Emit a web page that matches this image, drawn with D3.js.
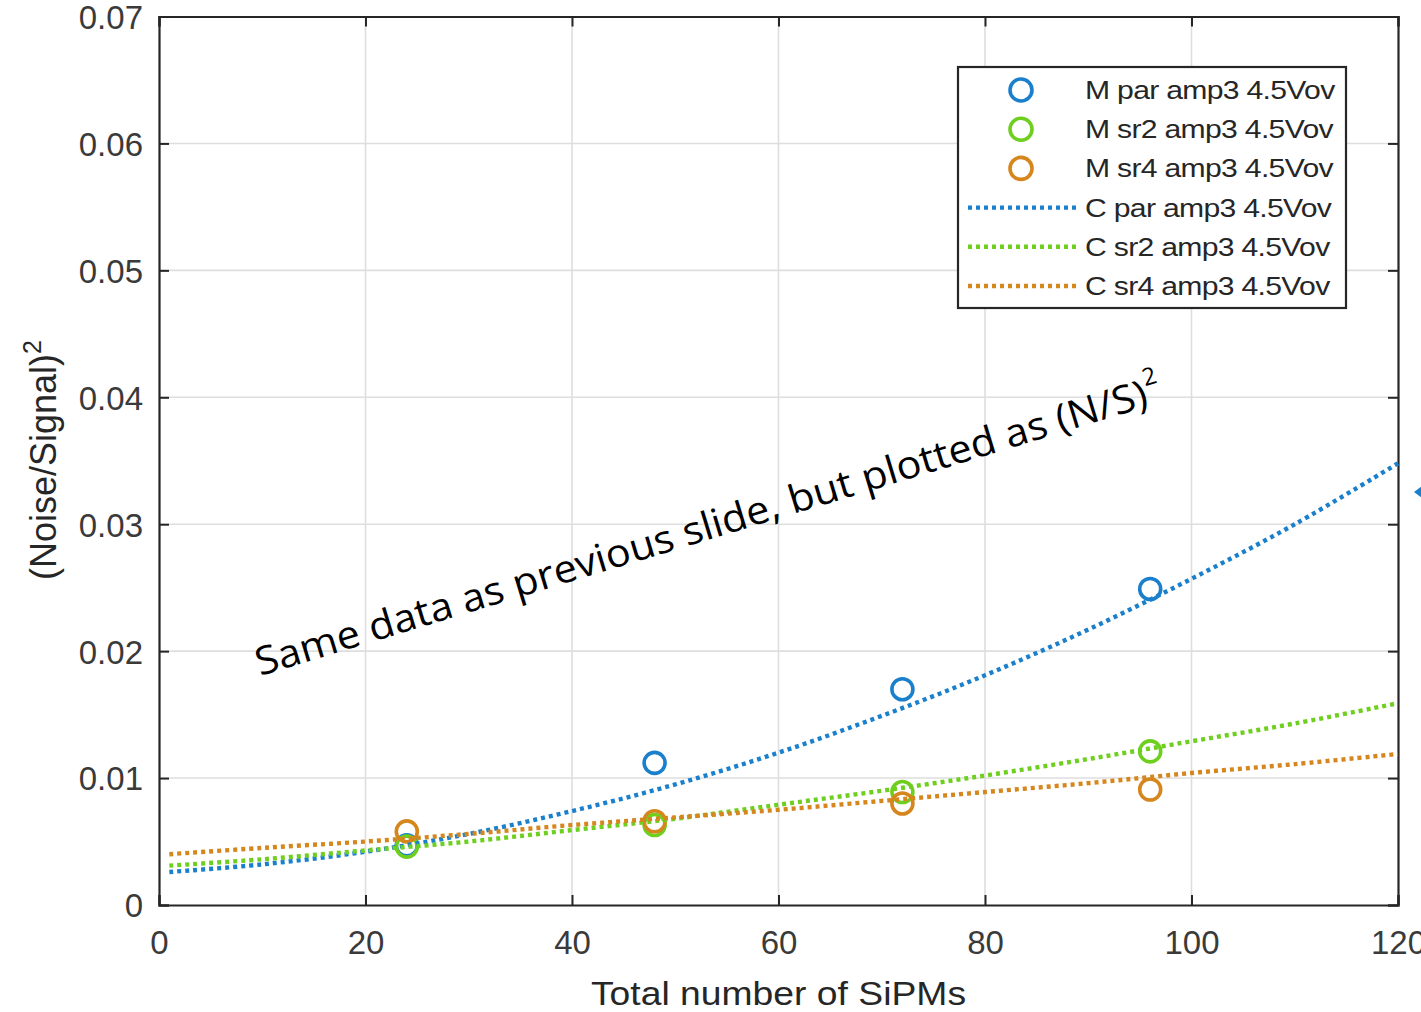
<!DOCTYPE html>
<html>
<head>
<meta charset="utf-8">
<script src="https://cdn.jsdelivr.net/npm/d3@7"></script>
<style>
  body { margin: 0; background: #fff; overflow: hidden; }
  svg { display: block; }
</style>
</head>
<body>
<svg id="chart" width="1421" height="1012"></svg>
<script>
// ---- data ----
const xTicks = [0, 20, 40, 60, 80, 100, 120];
const yTicks = [0, 0.01, 0.02, 0.03, 0.04, 0.05, 0.06, 0.07];
const xTickLabels = ["0", "20", "40", "60", "80", "100", "120"];
const yTickLabels = ["0", "0.01", "0.02", "0.03", "0.04", "0.05", "0.06", "0.07"];

// measured points (total SiPMs vs (N/S)^2)
const sipmCounts = [24, 48, 72, 96];
const measPar = [0.0047, 0.0112, 0.0170, 0.0249];
const measSr2 = [0.0046, 0.0063, 0.0089, 0.0121];
const measSr4 = [0.0058, 0.0066, 0.0080, 0.0091];

// calculated curves
const curveX = [1, 10, 20, 30, 40, 50, 60, 70, 80, 90, 100, 110, 120];
const calcPar = [0.0026, 0.0032, 0.0042, 0.0056, 0.0074, 0.0095, 0.0120, 0.0149, 0.0181, 0.0217, 0.0257, 0.0300, 0.0348];
const calcSr2 = [0.0031, 0.0036, 0.0043, 0.0050, 0.0059, 0.0068, 0.0079, 0.0090, 0.0102, 0.0115, 0.0129, 0.0143, 0.0159];
const calcSr4 = [0.0040, 0.0045, 0.0050, 0.0056, 0.0063, 0.0069, 0.0075, 0.0082, 0.0089, 0.0096, 0.0104, 0.0111, 0.0119];

const legendLabels = [
  "M par amp3 4.5Vov", "M sr2 amp3 4.5Vov", "M sr4 amp3 4.5Vov",
  "C par amp3 4.5Vov", "C sr2 amp3 4.5Vov", "C sr4 amp3 4.5Vov"
];
const seriesColors = ["#1a80cc", "#6ecf1e", "#d5861c"];

// ---- layout ----
const svg = d3.select("#chart");
const plotLeft = 159, plotRight = 1398, plotTop = 16.5, plotBottom = 905;
const axisColor = "#262626";

const x = d3.scaleLinear().domain([0, 120]).range([plotLeft, plotRight]);
const y = d3.scaleLinear().domain([0, 0.07]).range([plotBottom, plotTop]);

// grid
const grid = svg.append("g");
grid.selectAll("line.gx").data(xTicks.slice(1, -1)).join("line")
  .attr("x1", d => x(d)).attr("x2", d => x(d))
  .attr("y1", plotTop).attr("y2", plotBottom)
  .attr("stroke", "#dedede").attr("stroke-width", 1.6);
grid.selectAll("line.gy").data(yTicks.slice(1, -1)).join("line")
  .attr("x1", plotLeft).attr("x2", plotRight)
  .attr("y1", d => y(d)).attr("y2", d => y(d))
  .attr("stroke", "#dedede").attr("stroke-width", 1.6);

// axes with inward ticks on all four sides
const tickLen = 10;
const axB = svg.append("g").attr("transform", `translate(0,${plotBottom})`)
  .call(d3.axisBottom(x).tickValues(xTicks).tickSize(-tickLen).tickPadding(26)
    .tickFormat((d, i) => xTickLabels[i]));
const axT = svg.append("g").attr("transform", `translate(0,${plotTop})`)
  .call(d3.axisTop(x).tickValues(xTicks).tickSize(-tickLen).tickFormat(""));
const axL = svg.append("g").attr("transform", `translate(${plotLeft},0)`)
  .call(d3.axisLeft(y).tickValues(yTicks).tickSize(-tickLen).tickPadding(16)
    .tickFormat((d, i) => yTickLabels[i]));
const axR = svg.append("g").attr("transform", `translate(${plotRight},0)`)
  .call(d3.axisRight(y).tickValues(yTicks).tickSize(-tickLen).tickFormat(""));

[axB, axT, axL, axR].forEach(g => {
  g.select(".domain").attr("stroke", axisColor).attr("stroke-width", 2.2);
  g.selectAll(".tick line").attr("stroke", axisColor).attr("stroke-width", 2);
  g.selectAll(".tick text")
    .attr("fill", "#3a3a3a")
    .style("font-family", "'Liberation Sans', Arial, sans-serif")
    .style("font-size", "33px");
});
axB.selectAll(".tick text").attr("dy", "0.71em");
axL.selectAll(".tick text").attr("dy", "0.36em");

// dotted line style
const dotted = sel => sel.attr("fill", "none")
  .attr("stroke-width", 4.4).attr("stroke-dasharray", "4 4");

// measured circles, drawn first so the curves sit on top
const measured = [measPar, measSr2, measSr4];
measured.forEach((vals, k) => {
  svg.append("g").selectAll("circle").data(sipmCounts).join("circle")
    .attr("cx", d => x(d))
    .attr("cy", (d, i) => y(vals[i]))
    .attr("r", 10.5)
    .attr("fill", "none")
    .attr("stroke", seriesColors[k])
    .attr("stroke-width", 3.6);
});

// calculated curves
const line = d3.line()
  .x((d, i) => x(curveX[i]))
  .y(d => y(d))
  .curve(d3.curveCatmullRom);
[calcPar, calcSr2, calcSr4].forEach((vals, k) => {
  svg.append("path").datum(vals)
    .attr("d", line)
    .attr("stroke", seriesColors[k])
    .call(dotted);
});

// horizontally stretched text helper
function stretchText(g, txt, px, py, size, sx, anchor) {
  return g.append("text")
    .attr("transform", `translate(${px},${py}) scale(${sx},1)`)
    .attr("text-anchor", anchor || "start")
    .style("font-family", "'Liberation Sans', Arial, sans-serif")
    .style("font-size", size + "px")
    .attr("fill", "#262626")
    .text(txt);
}

// legend
const lg = svg.append("g");
lg.append("rect").attr("x", 958).attr("y", 67).attr("width", 388).attr("height", 241)
  .attr("fill", "#fff").attr("stroke", axisColor).attr("stroke-width", 2.2);
const rowY = d3.scaleLinear().domain([0, 5]).range([90, 286]);
legendLabels.forEach((lbl, i) => {
  const cy = rowY(i);
  const color = seriesColors[i % 3];
  if (i < 3) {
    lg.append("circle").attr("cx", 1021).attr("cy", cy).attr("r", 11)
      .attr("fill", "none").attr("stroke", color).attr("stroke-width", 3.6);
  } else {
    lg.append("line").attr("x1", 968).attr("x2", 1079).attr("y1", cy).attr("y2", cy)
      .attr("stroke", color).call(dotted);
  }
  stretchText(lg, lbl, 1085, cy + 9, 26, 1.16).style("letter-spacing", "-0.6px");
});

// axis titles
stretchText(svg, "Total number of SiPMs", x(60), 1005, 33, 1.13, "middle");

const yl = svg.append("text")
  .attr("transform", "translate(56,460) rotate(-90)")
  .attr("text-anchor", "middle")
  .style("font-family", "'Liberation Sans', Arial, sans-serif")
  .style("font-size", "36px")
  .attr("fill", "#262626");
yl.append("tspan").text("(Noise/Signal)");
yl.append("tspan").attr("dy", -15).style("font-size", "25px").text("2");

// slide annotation
const note = svg.append("g").attr("transform", "translate(260,676) rotate(-16.9)");
note.append("text")
  .style("font-family", "'Open Sans', 'Noto Sans', sans-serif")
  .style("font-size", "39px")
  .attr("fill", "#000")
  .attr("textLength", 930)
  .attr("lengthAdjust", "spacingAndGlyphs")
  .text("Same data as previous slide, but plotted as (N/S)");
note.append("text")
  .attr("x", 931).attr("y", -20)
  .style("font-family", "'Open Sans', 'Noto Sans', sans-serif")
  .style("font-size", "24px")
  .attr("fill", "#000")
  .text("2");

// arrow tip at the right edge
svg.append("path")
  .attr("d", d3.line()([[1414, 492], [1422, 486], [1422, 498]]) + "Z")
  .attr("fill", seriesColors[0]);
</script>
</body>
</html>
